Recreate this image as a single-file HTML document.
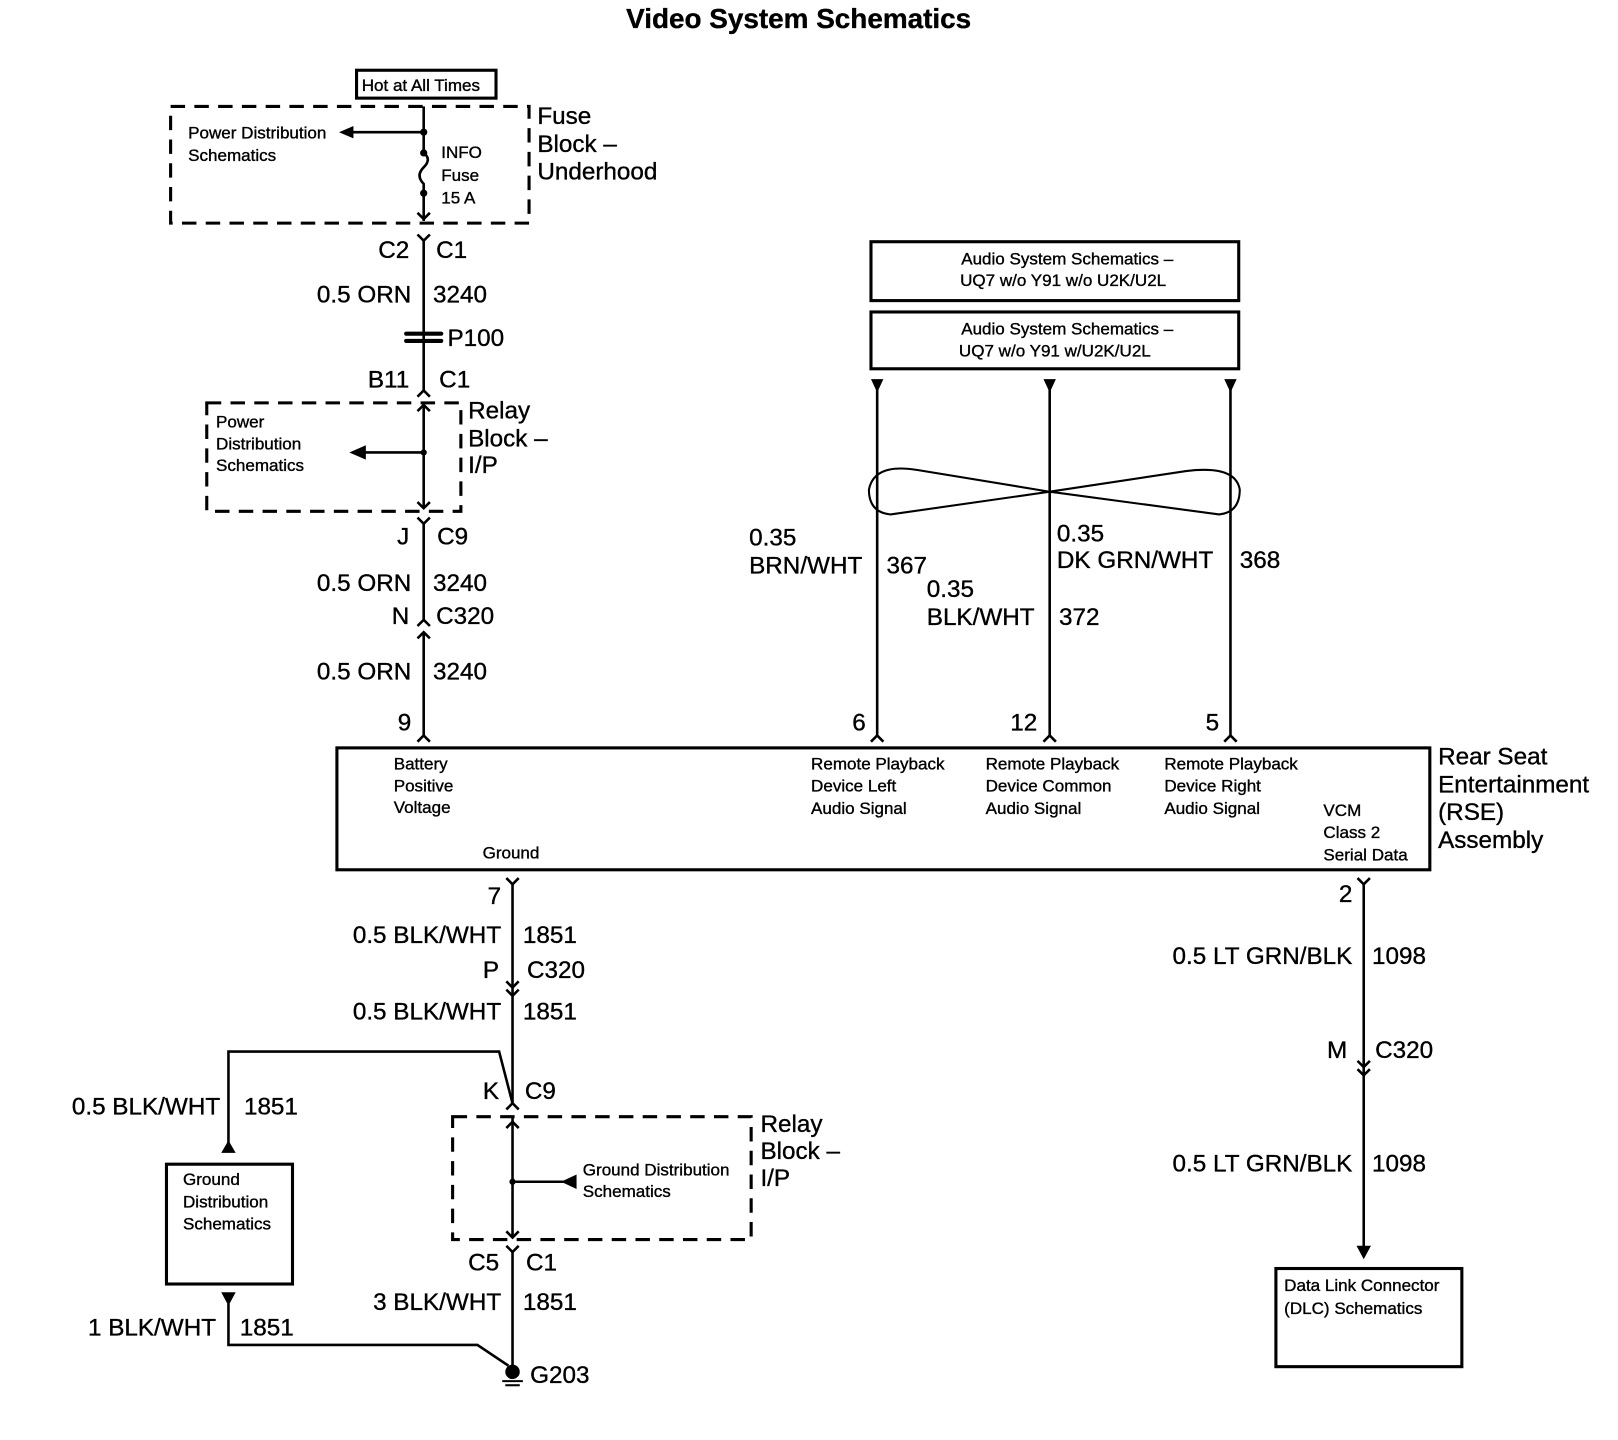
<!DOCTYPE html>
<html><head><meta charset="utf-8"><style>
html,body{margin:0;padding:0;background:#fff;}
svg{display:block;}
text{font-family:"Liberation Sans",sans-serif;fill:#000;stroke:#000;stroke-width:0.35px;}
.l{font-size:23.5px;}
.s{font-size:16.5px;}
.r{text-anchor:end;}
</style></head><body>
<svg width="1618" height="1440" viewBox="0 0 1566 1394" xmlns="http://www.w3.org/2000/svg">
<g fill="none" stroke="#000" stroke-width="2.5">
<rect x="345" y="68" width="135" height="27" stroke-width="3"/>
<rect x="165" y="103" width="347" height="113" stroke-dasharray="14,9" stroke-width="3"/>
<line x1="410" y1="103" x2="410" y2="146"/>
<path d="M410,148 q8,6 0,14 q-8,8 0,16 v36"/>
<line x1="410" y1="128" x2="340" y2="128"/>
<path d="M404,206 L410,212 L416,206"/>
<path d="M404,227 L410,233 L416,227"/>
<line x1="410" y1="233" x2="410" y2="378"/>
<path d="M404,384 L410,378 L416,384"/>
<rect x="200" y="390" width="246" height="105" stroke-dasharray="14,9" stroke-width="3"/>
<line x1="410" y1="392" x2="410" y2="492"/>
<path d="M404,398 L410,392 L416,398"/>
<line x1="410" y1="438" x2="352" y2="438"/>
<path d="M404,486 L410,492 L416,486"/>
<path d="M404,501 L410,507 L416,501"/>
<line x1="410" y1="507" x2="410" y2="600"/>
<path d="M404,606 L410,600 L416,606"/>
<line x1="410" y1="612" x2="410" y2="712"/>
<path d="M404,618 L410,612 L416,618"/>
<path d="M404,718 L410,712 L416,718"/>
<rect x="843" y="234" width="356" height="57" stroke-width="3"/>
<rect x="843" y="302" width="356" height="55" stroke-width="3"/>
<line x1="849" y1="370" x2="849" y2="712"/>
<line x1="1016" y1="370" x2="1016" y2="712"/>
<line x1="1191" y1="370" x2="1191" y2="712"/>
<path d="M843,718 L849,712 L855,718"/>
<path d="M1010,718 L1016,712 L1022,718"/>
<path d="M1185,718 L1191,712 L1197,718"/>
<path d="M1016,490 L888,469 Q846,462 841,488 Q841,510 862,512 L1016,490 L1148,470 Q1196,464 1200,488 Q1200,510 1180,512 Z" transform="translate(0,-14)" stroke-width="2"/>
<rect x="326" y="724" width="1058" height="118" stroke-width="3"/>
<path d="M490,850 L496,856 L502,850"/>
<line x1="496" y1="856" x2="496" y2="1068"/>
<path d="M490,950 L496,956 L502,950"/>
<path d="M490,958 L496,964 L502,958"/>
<polyline points="221,1115 221,1018 483,1018 496,1068"/>
<path d="M490,1074 L496,1068 L502,1074"/>
<rect x="438" y="1081" width="289" height="119" stroke-dasharray="14,9" stroke-width="3"/>
<line x1="496" y1="1081" x2="496" y2="1198"/>
<path d="M490,1092 L496,1086 L502,1092"/>
<path d="M490,1192 L496,1198 L502,1192"/>
<line x1="496" y1="1144" x2="550" y2="1144"/>
<path d="M490,1206 L496,1212 L502,1206"/>
<line x1="496" y1="1212" x2="496" y2="1325"/>
<rect x="161" y="1127" width="122" height="116" stroke-width="3"/>
<polyline points="221,1262 221,1302 462,1302 492,1322"/>
<line x1="486" y1="1337" x2="506" y2="1337" stroke-width="2"/>
<line x1="489" y1="1341" x2="503" y2="1341" stroke-width="2"/>
<path d="M1314,850 L1320,856 L1326,850"/>
<line x1="1320" y1="856" x2="1320" y2="1210"/>
<path d="M1314,1027 L1320,1033 L1326,1027"/>
<path d="M1314,1035 L1320,1041 L1326,1035"/>
<rect x="1235" y="1228" width="180" height="95" stroke-width="3"/>
</g>
<g fill="#000">
<circle cx="410" cy="128" r="3.5"/><circle cx="410" cy="148" r="3.5"/><circle cx="410" cy="187" r="3.5"/>
<polygon points="328,128 342,122 342,134"/>
<polygon points="338,438 354,431 354,445"/>
<circle cx="410" cy="438" r="3"/>
<rect x="391" y="321" width="38" height="4" rx="2"/><rect x="391" y="328" width="38" height="4" rx="2"/>
<polygon points="843,367 855,367 849,380"/>
<polygon points="1010,367 1022,367 1016,380"/>
<polygon points="1185,367 1197,367 1191,380"/>
<circle cx="496" cy="1144" r="3"/>
<polygon points="543,1144 558,1137 558,1151"/>
<polygon points="214,1116 228,1116 221,1104"/>
<polygon points="214,1251 228,1251 221,1264"/>
<circle cx="496" cy="1328" r="7"/>
<polygon points="1313,1206 1327,1206 1320,1219"/>
</g>
<text x="773" y="27" text-anchor="middle" font-size="27" font-weight="bold">Video System Schematics</text>
<text class="s" x="350" y="88">Hot at All Times</text>
<text class="s" x="182" y="134">Power Distribution</text>
<text class="s" x="182" y="156">Schematics</text>
<text class="s" x="427" y="153">INFO</text>
<text class="s" x="427" y="175">Fuse</text>
<text class="s" x="427" y="197">15 A</text>
<text class="l" x="520" y="120">Fuse</text>
<text class="l" x="520" y="147">Block –</text>
<text class="l" x="520" y="174">Underhood</text>
<text class="l r" x="396" y="250">C2</text><text class="l" x="422" y="250">C1</text>
<text class="l r" x="398" y="293">0.5 ORN</text><text class="l" x="419" y="293">3240</text>
<text class="l" x="433" y="335">P100</text>
<text class="l r" x="396" y="375">B11</text><text class="l" x="425" y="375">C1</text>
<text class="s" x="209" y="414">Power</text>
<text class="s" x="209" y="435">Distribution</text>
<text class="s" x="209" y="456">Schematics</text>
<text class="l" x="453" y="405">Relay</text>
<text class="l" x="453" y="432">Block –</text>
<text class="l" x="453" y="458">I/P</text>
<text class="l r" x="396" y="527">J</text><text class="l" x="423" y="527">C9</text>
<text class="l r" x="398" y="572">0.5 ORN</text><text class="l" x="419" y="572">3240</text>
<text class="l r" x="396" y="604">N</text><text class="l" x="422" y="604">C320</text>
<text class="l r" x="398" y="658">0.5 ORN</text><text class="l" x="419" y="658">3240</text>
<text class="l r" x="398" y="707">9</text>
<text class="s" x="1033" y="256" text-anchor="middle">Audio System Schematics –</text>
<text class="s" x="1029" y="277" text-anchor="middle">UQ7 w/o Y91 w/o U2K/U2L</text>
<text class="s" x="1033" y="324" text-anchor="middle">Audio System Schematics –</text>
<text class="s" x="1021" y="345" text-anchor="middle">UQ7 w/o Y91 w/U2K/U2L</text>
<text class="l" x="725" y="528">0.35</text>
<text class="l" x="725" y="555">BRN/WHT</text><text class="l" x="858" y="555">367</text>
<text class="l" x="897" y="578">0.35</text>
<text class="l" x="897" y="605">BLK/WHT</text><text class="l" x="1025" y="605">372</text>
<text class="l" x="1023" y="524">0.35</text>
<text class="l" x="1023" y="550">DK GRN/WHT</text><text class="l" x="1200" y="550">368</text>
<text class="l r" x="838" y="707">6</text>
<text class="l r" x="1004" y="707">12</text>
<text class="l r" x="1180" y="707">5</text>
<text class="s" x="381" y="745">Battery</text>
<text class="s" x="381" y="766">Positive</text>
<text class="s" x="381" y="787">Voltage</text>
<text class="s" x="467" y="831">Ground</text>
<text class="s" x="785" y="745">Remote Playback</text>
<text class="s" x="785" y="766">Device Left</text>
<text class="s" x="785" y="788">Audio Signal</text>
<text class="s" x="954" y="745">Remote Playback</text>
<text class="s" x="954" y="766">Device Common</text>
<text class="s" x="954" y="788">Audio Signal</text>
<text class="s" x="1127" y="745">Remote Playback</text>
<text class="s" x="1127" y="766">Device Right</text>
<text class="s" x="1127" y="788">Audio Signal</text>
<text class="s" x="1281" y="790">VCM</text>
<text class="s" x="1281" y="811">Class 2</text>
<text class="s" x="1281" y="833">Serial Data</text>
<text class="l" x="1392" y="740">Rear Seat</text>
<text class="l" x="1392" y="767">Entertainment</text>
<text class="l" x="1392" y="794">(RSE)</text>
<text class="l" x="1392" y="821">Assembly</text>
<text class="l r" x="485" y="875">7</text>
<text class="l r" x="485" y="913">0.5 BLK/WHT</text><text class="l" x="506" y="913">1851</text>
<text class="l r" x="483" y="947">P</text><text class="l" x="510" y="947">C320</text>
<text class="l r" x="485" y="987">0.5 BLK/WHT</text><text class="l" x="506" y="987">1851</text>
<text class="l r" x="483" y="1064">K</text><text class="l" x="508" y="1064">C9</text>
<text class="l r" x="213" y="1079">0.5 BLK/WHT</text><text class="l" x="236" y="1079">1851</text>
<text class="s" x="177" y="1147">Ground</text>
<text class="s" x="177" y="1169">Distribution</text>
<text class="s" x="177" y="1190">Schematics</text>
<text class="s" x="564" y="1138">Ground Distribution</text>
<text class="s" x="564" y="1159">Schematics</text>
<text class="l" x="736" y="1096">Relay</text>
<text class="l" x="736" y="1122">Block –</text>
<text class="l" x="736" y="1148">I/P</text>
<text class="l r" x="483" y="1230">C5</text><text class="l" x="509" y="1230">C1</text>
<text class="l r" x="485" y="1268">3 BLK/WHT</text><text class="l" x="506" y="1268">1851</text>
<text class="l r" x="209" y="1293">1 BLK/WHT</text><text class="l" x="232" y="1293">1851</text>
<text class="l" x="513" y="1339">G203</text>
<text class="l r" x="1309" y="873">2</text>
<text class="l r" x="1309" y="933">0.5 LT GRN/BLK</text><text class="l" x="1328" y="933">1098</text>
<text class="l r" x="1304" y="1024">M</text><text class="l" x="1331" y="1024">C320</text>
<text class="l r" x="1309" y="1134">0.5 LT GRN/BLK</text><text class="l" x="1328" y="1134">1098</text>
<text class="s" x="1243" y="1250">Data Link Connector</text>
<text class="s" x="1243" y="1272">(DLC) Schematics</text>
</svg>
</body></html>
